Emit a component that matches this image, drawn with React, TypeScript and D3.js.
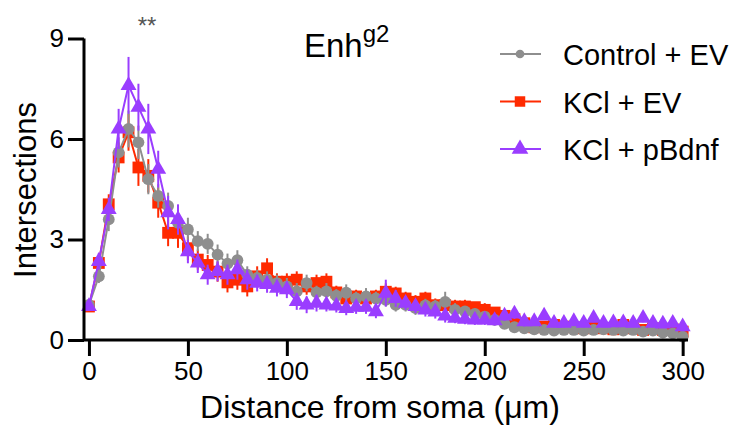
import React, { useEffect, useRef } from 'react'
import * as d3 from 'd3'

// Sholl analysis, distance from soma in um (every 5 um)
const distances = d3.range(0, 305, 5)

const controlEV = [
  1.05, 1.9, 3.6, 5.6, 6.3, 5.9, 4.8, 4.3, 4.0, 3.5,
  3.3, 2.95, 2.87, 2.55, 2.28, 2.38, 1.95, 1.85, 1.8, 1.7,
  1.6, 1.45, 1.7, 1.42, 1.45, 1.32, 1.41, 1.24, 1.3, 1.24,
  1.2, 1.05, 1.05, 0.95, 1.03, 1.0, 1.14, 0.9, 0.85, 0.78,
  0.7, 0.6, 0.48, 0.38, 0.35, 0.32, 0.3, 0.28, 0.3, 0.3,
  0.28, 0.3, 0.32, 0.3, 0.28, 0.3, 0.25, 0.28, 0.22, 0.2, 0.1,
]
const controlEVErr = [
  0.1, 0.2, 0.35, 0.45, 0.55, 0.5, 0.45, 0.35, 0.4, 0.35,
  0.35, 0.3, 0.3, 0.3, 0.3, 0.3, 0.25, 0.25, 0.25, 0.25,
  0.25, 0.25, 0.25, 0.2, 0.25, 0.2, 0.25, 0.2, 0.25, 0.2,
  0.2, 0.2, 0.2, 0.2, 0.2, 0.2, 0.3, 0.2, 0.15, 0.15,
  0.15, 0.15, 0.12, 0.1, 0.1, 0.1, 0.1, 0.1, 0.1, 0.1,
  0.1, 0.1, 0.1, 0.1, 0.1, 0.1, 0.1, 0.1, 0.1, 0.1, 0.08,
]

const kclEV = [
  1.0, 2.3, 4.05, 5.45, 6.2, 5.15, 4.9, 4.1, 3.2, 3.2,
  2.74, 2.4, 2.24, 2.04, 1.72, 1.8, 1.6, 1.9, 2.14, 1.74,
  1.74, 1.8, 1.6, 1.7, 1.74, 1.42, 1.24, 1.3, 1.24, 1.3,
  1.44, 1.39, 1.24, 1.14, 1.24, 1.04, 1.04, 1.0, 1.0, 0.98,
  0.9, 0.82, 0.72, 0.62, 0.5, 0.38, 0.4, 0.45, 0.4, 0.38,
  0.35, 0.4, 0.35, 0.32, 0.45, 0.35, 0.3, 0.35, 0.3, 0.32, 0.25,
]
const kclEVErr = [
  0.1, 0.2, 0.3, 0.45, 0.55, 0.55, 0.5, 0.45, 0.4, 0.45,
  0.35, 0.3, 0.3, 0.3, 0.3, 0.3, 0.3, 0.3, 0.3, 0.25,
  0.25, 0.25, 0.25, 0.25, 0.25, 0.2, 0.2, 0.2, 0.2, 0.2,
  0.25, 0.2, 0.2, 0.2, 0.2, 0.2, 0.2, 0.2, 0.2, 0.15,
  0.2, 0.15, 0.15, 0.15, 0.15, 0.12, 0.12, 0.12, 0.12, 0.12,
  0.12, 0.1, 0.1, 0.1, 0.1, 0.1, 0.1, 0.1, 0.1, 0.1, 0.1,
]

const kclBdnf = [
  1.0, 2.35, 3.9, 6.3, 7.6, 6.95, 6.3, 5.1, 3.8, 3.6,
  2.64, 2.3, 1.95, 2.05, 1.95, 2.1, 1.8, 1.7, 1.66, 1.55,
  1.5, 1.15, 1.05, 1.1, 1.05, 1.02, 0.94, 0.98, 0.98, 0.85,
  1.4, 1.24, 1.1, 1.0, 0.9, 0.84, 0.72, 0.65, 0.62, 0.6,
  0.6, 0.58, 0.72, 0.78, 0.55, 0.55, 0.72, 0.5, 0.5, 0.55,
  0.5, 0.65, 0.5, 0.52, 0.52, 0.5, 0.65, 0.5, 0.48, 0.5, 0.4,
]
const kclBdnfErr = [
  0.1, 0.25, 0.35, 0.6, 0.85, 0.7, 0.75, 0.55, 0.5, 0.45,
  0.35, 0.3, 0.3, 0.3, 0.3, 0.3, 0.3, 0.25, 0.25, 0.25,
  0.25, 0.25, 0.25, 0.25, 0.2, 0.2, 0.2, 0.2, 0.2, 0.2,
  0.4, 0.25, 0.2, 0.2, 0.2, 0.2, 0.2, 0.15, 0.15, 0.15,
  0.15, 0.15, 0.15, 0.15, 0.15, 0.12, 0.12, 0.12, 0.12, 0.12,
  0.12, 0.12, 0.12, 0.12, 0.12, 0.12, 0.12, 0.12, 0.12, 0.12, 0.1,
]

const xTicks = [0, 50, 100, 150, 200, 250, 300]
const yTicks = [0, 3, 6, 9]

const FONT = '"Liberation Sans", Arial, sans-serif'

const series = [
  // draw order: red under, then grey, purple on top
  { name: 'KCl + EV', values: kclEV, err: kclEVErr, color: '#ff2a00', shape: d3.symbolSquare, size: 140, legendSize: 110 },
  { name: 'Control + EV', values: controlEV, err: controlEVErr, color: '#8e8e8e', shape: d3.symbolCircle, size: 110, legendSize: 60 },
  { name: 'KCl + pBdnf', values: kclBdnf, err: kclBdnfErr, color: '#9a3dff', shape: d3.symbolTriangle, size: 110, legendSize: 120 },
]
const legendOrder = ['Control + EV', 'KCl + EV', 'KCl + pBdnf']

const App = () => {
  const svgRef = useRef<SVGSVGElement>(null)

  useEffect(() => {
    const svg = d3.select(svgRef.current)
    svg.selectAll('*').remove()

    const xScale = d3.scaleLinear().domain([-2.5, 302.7]).range([84, 688])
    const yScale = d3.scaleLinear().domain([0, 9]).range([340, 38.5])

    // error bars, lines and markers
    series.forEach(s => {
      const g = svg.append('g')
      const pts = distances.map((d, i) => ({ x: d, y: s.values[i], e: s.err[i] }))

      g.selectAll('.err')
        .data(pts)
        .join('line')
        .attr('x1', d => xScale(d.x))
        .attr('x2', d => xScale(d.x))
        .attr('y1', d => yScale(d.y - d.e))
        .attr('y2', d => yScale(d.y + d.e))
        .attr('stroke', s.color)
        .attr('stroke-width', 2)

      const myLine = d3.line<{ x: number; y: number }>()
        .x(d => xScale(d.x))
        .y(d => yScale(d.y))
      g.append('path')
        .datum(pts)
        .attr('d', myLine)
        .attr('fill', 'none')
        .attr('stroke', s.color)
        .attr('stroke-width', 2)

      const sym = d3.symbol().type(s.shape).size(s.size)
      g.selectAll('.pt')
        .data(pts)
        .join('path')
        .attr('d', sym)
        .attr('transform', d => `translate(${xScale(d.x)},${yScale(d.y)})`)
        .attr('fill', s.color)
    })

    // axes
    const xAxis = d3.axisBottom(xScale).tickValues(xTicks).tickSize(16).tickPadding(6)
    const gx = svg.append('g').attr('transform', 'translate(0,340)').call(xAxis)
    const yAxis = d3.axisLeft(yScale).tickValues(yTicks).tickSize(16).tickPadding(4)
    const gy = svg.append('g').attr('transform', 'translate(84,0)').call(yAxis)
    ;[gx, gy].forEach(g => {
      g.select('.domain').attr('stroke', '#000').attr('stroke-width', 3)
      g.selectAll('.tick line').attr('stroke', '#000').attr('stroke-width', 3)
      g.selectAll('.tick text')
        .attr('fill', '#000')
        .style('font-family', FONT)
        .style('font-size', '26px')
    })
    gx.select('.domain').attr('d', 'M84,0H688')
    gy.select('.domain').attr('d', 'M0,340V38.5')

    // axis titles
    svg.append('text')
      .attr('x', 380)
      .attr('y', 418)
      .attr('text-anchor', 'middle')
      .style('font-family', FONT)
      .style('font-size', '32px')
      .text('Distance from soma (μm)')
    svg.append('text')
      .attr('transform', 'translate(36,190) rotate(-90)')
      .attr('text-anchor', 'middle')
      .style('font-family', FONT)
      .style('font-size', '31px')
      .text('Intersections')

    // title
    const title = svg.append('text')
      .attr('x', 304)
      .attr('y', 57)
      .style('font-family', FONT)
      .style('font-size', '33px')
    title.append('tspan').text('Enh')
    title.append('tspan').attr('dy', -15).style('font-size', '24px').text('g2')

    svg.append('text')
      .attr('x', 147)
      .attr('y', 34)
      .attr('text-anchor', 'middle')
      .attr('fill', '#555')
      .style('font-family', FONT)
      .style('font-size', '24px')
      .text('**')

    // legend
    legendOrder.forEach((name, i) => {
      const s = series.find(d => d.name === name)!
      const cy = 54 + i * 47.5
      const lg = svg.append('g')
      lg.append('line')
        .attr('x1', 500).attr('x2', 541)
        .attr('y1', cy).attr('y2', cy)
        .attr('stroke', s.color)
        .attr('stroke-width', 2)
      lg.append('path')
        .attr('d', d3.symbol().type(s.shape).size(s.legendSize)())
        .attr('transform', `translate(520,${cy})`)
        .attr('fill', s.color)
      lg.append('text')
        .attr('x', 563)
        .attr('y', cy + 11)
        .style('font-family', FONT)
        .style('font-size', '29px')
        .text(name)
    })
  }, [])

  return (
    <svg
      ref={svgRef}
      width={745}
      height={430}
      style={{ position: 'absolute', left: 0, top: 0, background: '#fff' }}
    />
  )
}

export default App
